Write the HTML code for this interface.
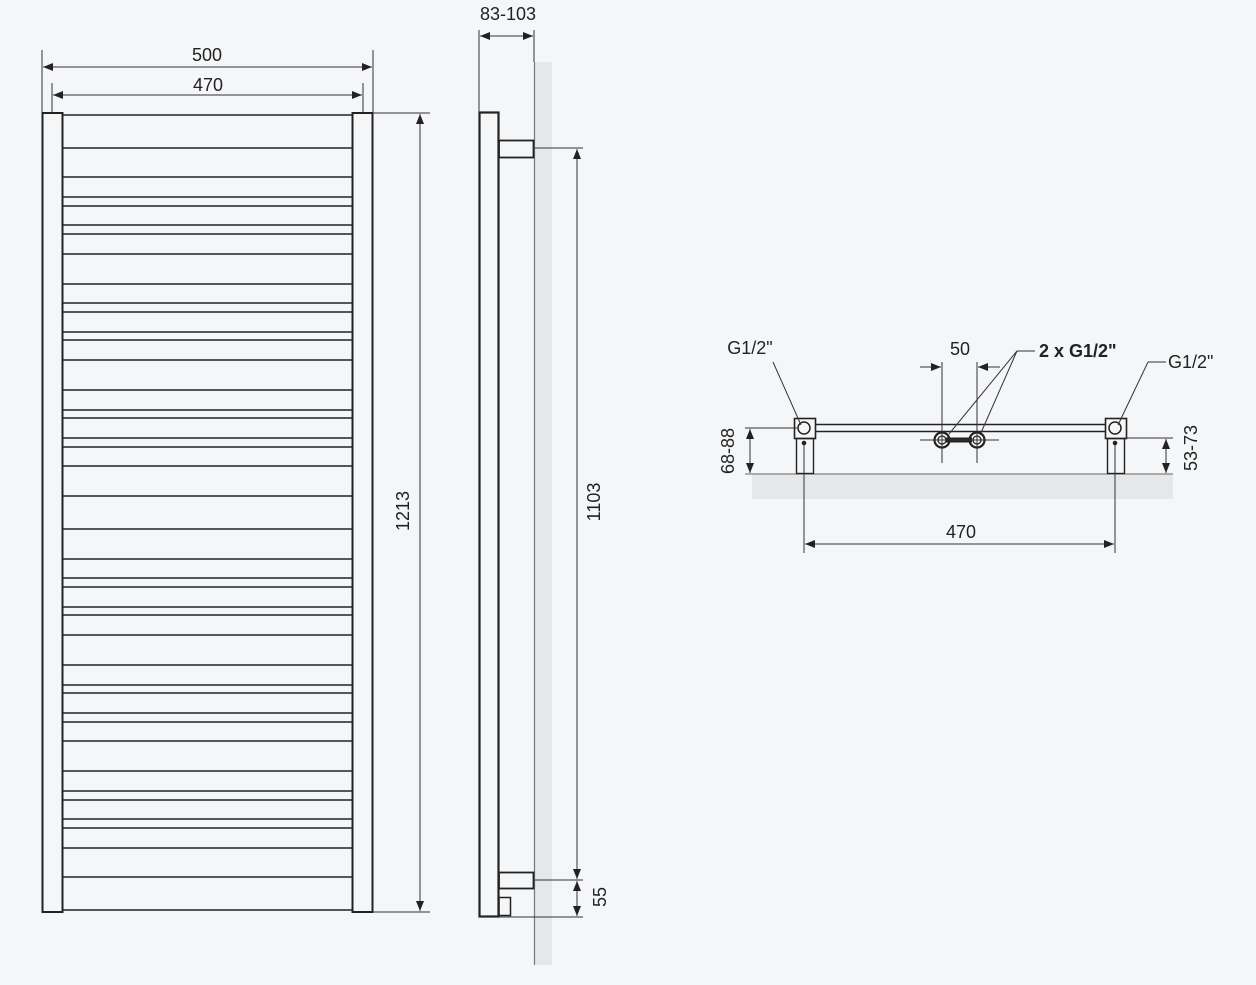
<!DOCTYPE html>
<html><head><meta charset="utf-8"><style>
html,body{margin:0;padding:0;background:#f4f6f8;}
svg{display:block;}
text{font-family:"Liberation Sans",sans-serif;fill:#222;font-size:18px;}
</style></head><body>
<svg width="1256" height="985" viewBox="0 0 1256 985" xmlns="http://www.w3.org/2000/svg">
<defs>
<marker id="a" viewBox="0 0 10 10" refX="10" refY="5" markerWidth="10" markerHeight="10" orient="auto-start-reverse" markerUnits="userSpaceOnUse"><path d="M0,1 L10,5 L0,9 z" fill="#222"/></marker>
</defs>
<rect width="1256" height="985" fill="#f4f6f8"/>
<g stroke="#222" fill="none">
<rect x="42.5" y="113" width="20" height="799" stroke-width="2"/>
<rect x="352.5" y="113" width="20" height="799" stroke-width="2"/>
<g stroke-width="1.6">
<line x1="62" x2="352" y1="115" y2="115"/>
<line x1="62" x2="352" y1="148" y2="148"/>
<line x1="62" x2="352" y1="177" y2="177"/>
<line x1="62" x2="352" y1="197" y2="197"/>
<line x1="62" x2="352" y1="206" y2="206"/>
<line x1="62" x2="352" y1="225" y2="225"/>
<line x1="62" x2="352" y1="234" y2="234"/>
<line x1="62" x2="352" y1="254" y2="254"/>
<line x1="62" x2="352" y1="284" y2="284"/>
<line x1="62" x2="352" y1="303" y2="303"/>
<line x1="62" x2="352" y1="312" y2="312"/>
<line x1="62" x2="352" y1="332" y2="332"/>
<line x1="62" x2="352" y1="340" y2="340"/>
<line x1="62" x2="352" y1="360" y2="360"/>
<line x1="62" x2="352" y1="390" y2="390"/>
<line x1="62" x2="352" y1="410" y2="410"/>
<line x1="62" x2="352" y1="418" y2="418"/>
<line x1="62" x2="352" y1="438" y2="438"/>
<line x1="62" x2="352" y1="447" y2="447"/>
<line x1="62" x2="352" y1="466" y2="466"/>
<line x1="62" x2="352" y1="496" y2="496"/>
<line x1="62" x2="352" y1="529" y2="529"/>
<line x1="62" x2="352" y1="559" y2="559"/>
<line x1="62" x2="352" y1="578" y2="578"/>
<line x1="62" x2="352" y1="587" y2="587"/>
<line x1="62" x2="352" y1="607" y2="607"/>
<line x1="62" x2="352" y1="615" y2="615"/>
<line x1="62" x2="352" y1="635" y2="635"/>
<line x1="62" x2="352" y1="665" y2="665"/>
<line x1="62" x2="352" y1="685" y2="685"/>
<line x1="62" x2="352" y1="693" y2="693"/>
<line x1="62" x2="352" y1="713" y2="713"/>
<line x1="62" x2="352" y1="722" y2="722"/>
<line x1="62" x2="352" y1="741" y2="741"/>
<line x1="62" x2="352" y1="771" y2="771"/>
<line x1="62" x2="352" y1="791" y2="791"/>
<line x1="62" x2="352" y1="800" y2="800"/>
<line x1="62" x2="352" y1="819" y2="819"/>
<line x1="62" x2="352" y1="828" y2="828"/>
<line x1="62" x2="352" y1="848" y2="848"/>
<line x1="62" x2="352" y1="877" y2="877"/>
<line x1="62" x2="352" y1="910" y2="910"/>
</g>
<g stroke-width="1" stroke="#333">
<line x1="42" y1="50" x2="42" y2="112"/><line x1="373" y1="50" x2="373" y2="112"/>
<line x1="52" y1="83" x2="52" y2="112"/><line x1="363" y1="83" x2="363" y2="112"/>
<line x1="43" y1="67" x2="372" y2="67" marker-start="url(#a)" marker-end="url(#a)"/>
<line x1="53" y1="95" x2="362" y2="95" marker-start="url(#a)" marker-end="url(#a)"/>
<line x1="373" y1="113" x2="430" y2="113"/><line x1="373" y1="912" x2="430" y2="912"/>
<line x1="420" y1="114" x2="420" y2="911" marker-start="url(#a)" marker-end="url(#a)"/>
</g>
</g>
<text x="207" y="61" text-anchor="middle">500</text>
<text x="208" y="91" text-anchor="middle">470</text>
<text transform="translate(409,511) rotate(-90)" text-anchor="middle">1213</text>

<rect x="534" y="62" width="18" height="903" fill="#e6e7e8"/>
<g stroke="#222" fill="none">
<line x1="534.5" y1="62" x2="534.5" y2="965" stroke="#777" stroke-width="1.2"/>
<rect x="479.5" y="112.5" width="19" height="804" stroke-width="2.2"/>
<rect x="499" y="140.5" width="34.5" height="17" stroke-width="1.8"/>
<rect x="499" y="872.5" width="34.5" height="16" stroke-width="1.8"/>
<rect x="499" y="897.5" width="11.5" height="18" stroke-width="1.5"/>
<g stroke-width="1" stroke="#333">
<line x1="479" y1="30" x2="479" y2="112"/><line x1="534" y1="30" x2="534" y2="62"/>
<line x1="480" y1="36" x2="533" y2="36" marker-start="url(#a)" marker-end="url(#a)"/>
<line x1="535" y1="148" x2="583" y2="148"/>
<line x1="535" y1="880" x2="583" y2="880"/>
<line x1="499" y1="917" x2="583" y2="917"/>
<line x1="577" y1="149" x2="577" y2="879" marker-start="url(#a)" marker-end="url(#a)"/>
<line x1="577" y1="881" x2="577" y2="916" marker-start="url(#a)" marker-end="url(#a)"/>
</g>
</g>
<text x="508" y="20" text-anchor="middle">83-103</text>
<text transform="translate(600,502) rotate(-90)" text-anchor="middle">1103</text>
<text transform="translate(606,897) rotate(-90)" text-anchor="middle">55</text>

<rect x="752" y="474" width="421" height="25" fill="#e6e7e8"/>
<g stroke="#222" fill="none">
<line x1="745" y1="474" x2="1173" y2="474" stroke="#666" stroke-width="1"/>
<line x1="815" y1="424.5" x2="1105" y2="424.5" stroke-width="1.5"/>
<line x1="815" y1="431.5" x2="1105" y2="431.5" stroke-width="1.5"/>
<rect x="794.5" y="418.5" width="21" height="20" stroke-width="1.6"/>
<circle cx="804" cy="428" r="6" stroke-width="1.5"/>
<rect x="796.5" y="438.5" width="17" height="35" stroke-width="1.4"/>
<rect x="1105.5" y="418.5" width="21" height="20" stroke-width="1.6"/>
<circle cx="1115" cy="428" r="6" stroke-width="1.5"/>
<rect x="1107.5" y="438.5" width="17" height="35" stroke-width="1.4"/>
<circle cx="804" cy="443" r="1.8" fill="#222"/>
<circle cx="1115" cy="443" r="1.8" fill="#222"/>
<line x1="946" y1="440" x2="972" y2="440" stroke-width="5"/>
<circle cx="942" cy="440" r="7.5" stroke-width="2.2"/>
<circle cx="942" cy="440" r="4" stroke-width="1.3"/>
<circle cx="977" cy="440" r="7.5" stroke-width="2.2"/>
<circle cx="977" cy="440" r="4" stroke-width="1.3"/>
<g stroke-width="1" stroke="#333">
<line x1="942" y1="362" x2="942" y2="463"/><line x1="977" y1="362" x2="977" y2="463"/>
<line x1="920" y1="440" x2="999" y2="440"/>
<line x1="920" y1="367" x2="941" y2="367" marker-end="url(#a)"/>
<line x1="1000" y1="367" x2="978" y2="367" marker-end="url(#a)"/>
<line x1="1035" y1="351" x2="1017" y2="351"/>
<line x1="1017" y1="351" x2="949" y2="434"/>
<line x1="1017" y1="351" x2="980" y2="435"/>
<line x1="773" y1="362" x2="801" y2="425"/>
<line x1="1166" y1="362" x2="1148" y2="362"/>
<line x1="1148" y1="362" x2="1118" y2="425"/>
<line x1="745" y1="428" x2="797" y2="428"/>
<line x1="750" y1="429" x2="750" y2="473" marker-start="url(#a)" marker-end="url(#a)"/>
<line x1="1126" y1="438" x2="1173" y2="438"/>
<line x1="1166" y1="439" x2="1166" y2="473" marker-start="url(#a)" marker-end="url(#a)"/>
<line x1="804" y1="445" x2="804" y2="553"/><line x1="1115" y1="445" x2="1115" y2="553"/>
<line x1="805" y1="544" x2="1114" y2="544" marker-start="url(#a)" marker-end="url(#a)"/>
</g>
</g>
<text x="750" y="354" text-anchor="middle">G1/2"</text>
<text x="960" y="355" text-anchor="middle">50</text>
<text x="1039" y="357" style="font-weight:bold">2 x G1/2"</text>
<text x="1168" y="368">G1/2"</text>
<text transform="translate(734,451) rotate(-90)" text-anchor="middle">68-88</text>
<text transform="translate(1197,448) rotate(-90)" text-anchor="middle">53-73</text>
<text x="961" y="538" text-anchor="middle">470</text>
</svg>
</body></html>
